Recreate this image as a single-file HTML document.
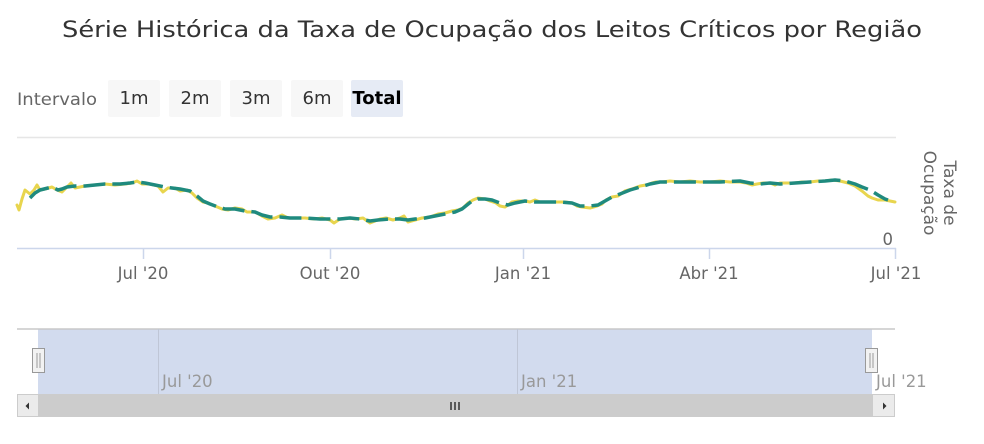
<!DOCTYPE html>
<html>
<head>
<meta charset="utf-8">
<style>
html,body{margin:0;padding:0;background:#fff;}
body{width:984px;height:444px;overflow:hidden;}
svg{display:block;}
text{font-family:"DejaVu Sans","Liberation Sans",sans-serif;}
</style>
</head>
<body>
<svg width="984" height="444" viewBox="0 0 984 444" xmlns="http://www.w3.org/2000/svg">
  <rect x="0" y="0" width="984" height="444" fill="#fff"/>
  <!-- Title -->
  <text x="492" y="37" text-anchor="middle" font-size="22" fill="#333" textLength="860" lengthAdjust="spacingAndGlyphs">Série Histórica da Taxa de Ocupação dos Leitos Críticos por Região</text>

  <!-- Range selector -->
  <text x="17" y="105" font-size="17" fill="#666" textLength="80" lengthAdjust="spacingAndGlyphs">Intervalo</text>
  <rect x="108" y="80" width="52" height="37" rx="2" fill="#f7f7f7"/>
  <rect x="169" y="80" width="52" height="37" rx="2" fill="#f7f7f7"/>
  <rect x="230" y="80" width="52" height="37" rx="2" fill="#f7f7f7"/>
  <rect x="291" y="80" width="52" height="37" rx="2" fill="#f7f7f7"/>
  <rect x="351" y="80" width="52" height="37" rx="2" fill="#e6ebf5"/>
  <text x="134" y="104" font-size="18" fill="#333" text-anchor="middle">1m</text>
  <text x="195" y="104" font-size="18" fill="#333" text-anchor="middle">2m</text>
  <text x="256" y="104" font-size="18" fill="#333" text-anchor="middle">3m</text>
  <text x="317" y="104" font-size="18" fill="#333" text-anchor="middle">6m</text>
  <text x="377" y="104" font-size="18" fill="#000" font-weight="bold" text-anchor="middle">Total</text>

  <!-- Main plot -->
  <line x1="17" y1="137.5" x2="896" y2="137.5" stroke="#e6e6e6" stroke-width="1.5"/>
  <line x1="17" y1="248.5" x2="896" y2="248.5" stroke="#ccd6eb" stroke-width="1.5"/>
  <g stroke="#ccd6eb" stroke-width="1.5">
    <line x1="143.5" y1="248" x2="143.5" y2="259"/>
    <line x1="330.5" y1="248" x2="330.5" y2="259"/>
    <line x1="523.5" y1="248" x2="523.5" y2="259"/>
    <line x1="709.5" y1="248" x2="709.5" y2="259"/>
    <line x1="895.5" y1="248" x2="895.5" y2="259"/>
  </g>
  <g font-size="16.5" fill="#666" text-anchor="middle">
    <text x="143" y="279">Jul '20</text>
    <text x="330" y="279">Out '20</text>
    <text x="523" y="279">Jan '21</text>
    <text x="709" y="279">Abr '21</text>
    <text x="896" y="279">Jul '21</text>
  </g>
  <text x="893" y="245" font-size="16.5" fill="#666" text-anchor="end">0</text>
  <g transform="translate(935,193) rotate(90)" font-size="17" fill="#666" text-anchor="middle">
    <text x="0" y="-9">Taxa de</text>
    <text x="0" y="11">Ocupação</text>
  </g>

  <!-- Series -->
  <polyline fill="none" stroke="#e8d54e" stroke-width="3" stroke-linejoin="round" stroke-linecap="round"
    points="17,205 19,210 22,199 25,190 30,194 34,190 37,185 40,190 45,189 52,187 57,190 62,192 68,186 71,183 75,188 85,186 95,185 105,184 115,185 125,184 132,183 137,181 142,184 150,184 158,186 163,192 168,188 175,188 180,191 187,190 192,193 197,198 203,202 208,203 215,206 222,209 228,210 235,208 242,209 247,212 255,212 262,216 268,219 275,218 282,215 288,218 295,218 305,218 315,219 322,218 330,220 334,223 340,219 348,218 356,219 363,218 370,223 375,221 380,219 386,218 393,220 400,218 404,216 408,222 415,220 422,218 430,217 438,214 445,213 452,211 458,210 463,208 468,203 473,200 478,198 485,199 490,201 496,203 500,206 505,207 508,205 512,202 518,201 525,201 530,202 535,200 540,202 548,202 556,202 565,202 572,203 577,206 582,207 590,208 597,206 602,204 606,200 612,197 618,196 625,191 632,189 640,186 646,185 652,183 656,182 662,182 670,181 680,182 690,181 700,182 710,182 720,181 730,182 740,182 746,183 752,185 757,184 763,183 770,183 775,185 780,183 788,183 795,183 802,182 810,182 818,181 825,181 832,180 840,181 848,183 855,186 862,191 868,196 872,198 878,200 885,200 890,201 895,202"/>
  <polyline fill="none" stroke="#1f8a7e" stroke-width="3.5" stroke-dasharray="22,7" stroke-linejoin="round"
    points="30,198 35,193 40,190 48,188 52,187 58,190 62,189 67,187 75,186 85,186 95,185 105,184 120,184 130,183 137,182 145,183 155,185 165,187 172,188 180,189 190,191 197,196 203,201 210,204 218,207 225,209 235,209 245,211 255,212 262,215 270,217 280,217 290,218 305,218 320,219 330,219 340,219 350,218 360,219 370,221 378,220 390,219 400,219 408,220 415,219 425,218 435,216 445,214 455,212 462,209 467,205 472,201 478,199 485,199 492,200 500,203 508,205 515,203 525,201 535,202 545,202 560,202 572,203 580,206 590,206 598,205 605,201 612,197 620,194 630,190 640,187 650,184 660,182 680,182 700,182 720,182 740,181 750,183 760,184 770,183 780,184 795,183 810,182 825,181 835,180 845,181 855,184 862,187 870,190 878,195 885,199 888,200"/>

  <!-- Navigator -->
  <rect x="38" y="329" width="834" height="65" fill="#d2dbee"/>
  <line x1="17" y1="329" x2="895" y2="329" stroke="#c8c8c8" stroke-width="1.5"/>
  <line x1="158.5" y1="329" x2="158.5" y2="394" stroke="#bfc6d6" stroke-width="1"/>
  <line x1="517.5" y1="329" x2="517.5" y2="394" stroke="#bfc6d6" stroke-width="1"/>
  <g font-size="16.5" fill="#999">
    <text x="162" y="387">Jul '20</text>
    <text x="521" y="387">Jan '21</text>
    <text x="876" y="387">Jul '21</text>
  </g>
  <!-- handles -->
  <rect x="32.5" y="348.5" width="12" height="24" fill="#f2f2f2" stroke="#999" stroke-width="1"/>
  <line x1="37" y1="353" x2="37" y2="368" stroke="#999" stroke-width="1"/>
  <line x1="40" y1="353" x2="40" y2="368" stroke="#999" stroke-width="1"/>
  <rect x="865.5" y="348.5" width="12" height="24" fill="#f2f2f2" stroke="#999" stroke-width="1"/>
  <line x1="870" y1="353" x2="870" y2="368" stroke="#999" stroke-width="1"/>
  <line x1="873" y1="353" x2="873" y2="368" stroke="#999" stroke-width="1"/>

  <!-- Scrollbar -->
  <rect x="17" y="394" width="878" height="23" fill="#f2f2f2"/>
  <rect x="38" y="394" width="834" height="23" fill="#cccccc"/>
  <rect x="17.5" y="394.5" width="21" height="22" fill="#ebebeb" stroke="#cccccc" stroke-width="1"/>
  <rect x="872.5" y="394.5" width="22" height="22" fill="#ebebeb" stroke="#cccccc" stroke-width="1"/>
  <polygon points="29,402.5 29,409.5 25.5,406" fill="#333"/>
  <polygon points="883,402.5 883,409.5 886.5,406" fill="#333"/>
  <g stroke="#333" stroke-width="1.5">
    <line x1="451" y1="402" x2="451" y2="410"/>
    <line x1="455" y1="402" x2="455" y2="410"/>
    <line x1="459" y1="402" x2="459" y2="410"/>
  </g>
</svg>
</body>
</html>
